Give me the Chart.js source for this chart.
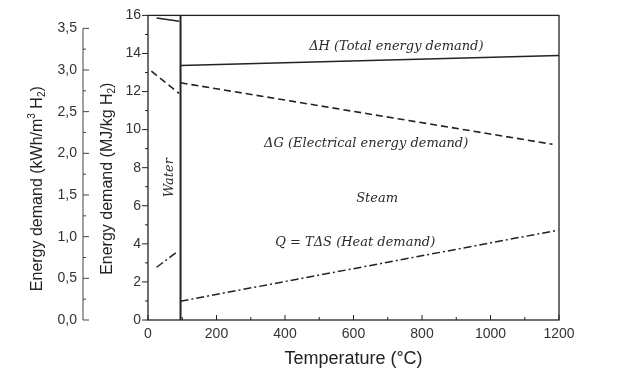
<!DOCTYPE html>
<html>
<head>
<meta charset="utf-8">
<script src="https://cdn.jsdelivr.net/npm/chart.js@4.4.1/dist/chart.umd.min.js"></script>
<style>
  html, body { margin: 0; padding: 0; background: #fff; }
  canvas { display: block; }
</style>
</head>
<body>
<canvas id="energyChart" width="636" height="374"></canvas>
<script>
// temperature in °C, energy demand in MJ/kg H2
const dhWaterT = [25, 91];
const dhWaterE = [15.86, 15.69];
const dhSteamT = [95, 1200];
const dhSteamE = [13.37, 13.89];
const dgWaterT = [10, 91];
const dgWaterE = [13.07, 11.9];
const dgSteamT = [95, 1181];
const dgSteamE = [12.46, 9.23];
const qWaterT = [25, 83];
const qWaterE = [2.77, 3.55];
const qSteamT = [95, 1198];
const qSteamE = [0.99, 4.72];
const boundaryT = [95, 95];
const boundaryE = [0, 16];

const xTicks = [0, 200, 400, 600, 800, 1000, 1200];
const xLabels = ['0', '200', '400', '600', '800', '1000', '1200'];
const yTicks = [0, 2, 4, 6, 8, 10, 12, 14, 16];
const kwhTicks = [0, 0.5, 1, 1.5, 2, 2.5, 3, 3.5];
const kwhLabels = ['0,0', '0,5', '1,0', '1,5', '2,0', '2,5', '3,0', '3,5'];

const noteTexts = ['ΔH (Total energy demand)', 'ΔG (Electrical energy demand)', 'Steam', 'Q = TΔS (Heat demand)', 'Water'];

const ink = '#222';
const sans = 'Liberation Sans';

const pts = (ts, es) => ts.map((t, i) => ({x: t, y: es[i]}));

function drawRich(ctx, parts, cx, cy, size) {
  const big = size + 'px "' + sans + '"';
  const small = Math.round(size * 0.65) + 'px "' + sans + '"';
  let w = 0;
  parts.forEach(([t, s]) => { ctx.font = s ? small : big; w += ctx.measureText(t).width; });
  ctx.save();
  ctx.translate(cx, cy);
  ctx.rotate(-Math.PI / 2);
  ctx.textBaseline = 'middle';
  ctx.textAlign = 'left';
  let px = -w / 2;
  parts.forEach(([t, s]) => {
    ctx.font = s ? small : big;
    const dy = s === 1 ? -0.33 * size : s === -1 ? 0.25 * size : 0;
    ctx.fillText(t, px, dy);
    px += ctx.measureText(t).width;
  });
  ctx.restore();
}

const decor = {
  id: 'decor',
  afterDatasetsDraw(chart) {
    const {ctx, chartArea: a, scales} = chart;
    const {x, y, y2} = scales;
    ctx.save();
    ctx.strokeStyle = ink;
    ctx.lineWidth = 1.3;
    ctx.strokeRect(a.left, a.top, a.right - a.left, a.bottom - a.top);

    ctx.lineWidth = 1;
    ctx.beginPath();
    yTicks.forEach((v, i) => {
      const p = y.getPixelForValue(v);
      ctx.moveTo(a.left - 6, p); ctx.lineTo(a.left, p);
      if (i) {
        const m = y.getPixelForValue((v + yTicks[i - 1]) / 2);
        ctx.moveTo(a.left - 3, m); ctx.lineTo(a.left, m);
      }
    });
    xTicks.forEach((v, i) => {
      const p = x.getPixelForValue(v);
      ctx.moveTo(p, a.bottom); ctx.lineTo(p, a.bottom - 5);
      if (i) {
        const m = x.getPixelForValue((v + xTicks[i - 1]) / 2);
        ctx.moveTo(m, a.bottom); ctx.lineTo(m, a.bottom - 3);
      }
    });
    ctx.stroke();

    // second (kWh) axis
    const ax = y2.right;
    ctx.strokeStyle = '#444';
    ctx.beginPath();
    ctx.moveTo(ax, y2.getPixelForValue(0)); ctx.lineTo(ax, y2.getPixelForValue(3.5));
    kwhTicks.forEach((v, i) => {
      const p = y2.getPixelForValue(v);
      ctx.moveTo(ax, p); ctx.lineTo(ax + 6, p);
      if (i) {
        const m = y2.getPixelForValue((v + kwhTicks[i - 1]) / 2);
        ctx.moveTo(ax, m); ctx.lineTo(ax + 3, m);
      }
    });
    ctx.stroke();

    // annotations inside the plot
    const notePos = [[725, 14.38], [637, 9.26], [669, 6.4], [605, 4.08], [63, 7.48]];
    ctx.fillStyle = '#2a2a2a';
    ctx.font = 'italic 13px "DejaVu Serif"';
    ctx.textAlign = 'center';
    ctx.textBaseline = 'middle';
    noteTexts.forEach((t, i) => {
      const px = x.getPixelForValue(notePos[i][0]);
      const py = y.getPixelForValue(notePos[i][1]);
      if (t === 'Water') {
        ctx.save();
        ctx.translate(px, py);
        ctx.rotate(-Math.PI / 2);
        ctx.fillText(t, 0, 0);
        ctx.restore();
      } else {
        ctx.fillText(t, px, py);
      }
    });

    // axis titles with sub/superscripts
    ctx.fillStyle = ink;
    const mid = (a.top + a.bottom) / 2;
    drawRich(ctx, [['Energy demand (kWh/m', 0], ['3', 1], [' H', 0], ['2', -1], [')', 0]], y2.left + 38, mid + 21, 16);
    drawRich(ctx, [['Energy demand (MJ/kg H', 0], ['2', -1], [')', 0]], y.left + 25, mid + 11, 16);
    ctx.restore();
  }
};

const tickFont = {family: sans, size: 14};

new Chart(document.getElementById('energyChart'), {
  type: 'line',
  data: {
    datasets: [
      {data: pts(dhWaterT, dhWaterE), borderColor: ink, borderWidth: 1.5},
      {data: pts(dhSteamT, dhSteamE), borderColor: ink, borderWidth: 1.5},
      {data: pts(dgWaterT, dgWaterE), borderColor: ink, borderWidth: 1.5, borderDash: [7, 4]},
      {data: pts(dgSteamT, dgSteamE), borderColor: ink, borderWidth: 1.6, borderDash: [7, 4]},
      {data: pts(qWaterT, qWaterE), borderColor: ink, borderWidth: 1.5, borderDash: [8, 3, 2, 3]},
      {data: pts(qSteamT, qSteamE), borderColor: ink, borderWidth: 1.5, borderDash: [8, 3, 2, 3]},
      {data: pts(boundaryT, boundaryE), borderColor: ink, borderWidth: 2}
    ]
  },
  options: {
    responsive: false,
    animation: false,
    layout: {padding: {top: 14, right: 77, left: 0, bottom: 0}},
    elements: {point: {radius: 0}, line: {tension: 0, fill: false}},
    plugins: {legend: {display: false}, tooltip: {enabled: false}},
    scales: {
      x: {
        type: 'linear', min: 0, max: 1200,
        afterBuildTicks: s => { s.ticks = xTicks.map(v => ({value: v})); },
        afterFit: s => { s.height = 54; },
        grid: {display: false, drawTicks: false},
        border: {display: false},
        ticks: {padding: 6, color: '#333', font: tickFont, callback: (v, i) => xLabels[i]},
        title: {display: true, text: 'Temperature (°C)', color: ink,
                font: {family: sans, size: 18}, padding: {top: 4, bottom: 4}}
      },
      y: {
        position: 'left', weight: 0, min: 0, max: 16,
        afterBuildTicks: s => { s.ticks = yTicks.map(v => ({value: v})); },
        afterFit: s => { s.width = 65; },
        grid: {display: false, drawTicks: false},
        border: {display: false},
        ticks: {padding: 7, color: '#333', font: tickFont}
      },
      y2: {
        position: 'left', weight: 1, min: 0, max: 3.655,
        afterBuildTicks: s => { s.ticks = kwhTicks.map(v => ({value: v})); },
        afterFit: s => { s.width = 83; },
        grid: {display: false, drawTicks: false},
        border: {display: false},
        ticks: {padding: 6, color: '#333', font: tickFont, callback: (v, i) => kwhLabels[i]}
      }
    }
  },
  plugins: [decor]
});
</script>
</body>
</html>
